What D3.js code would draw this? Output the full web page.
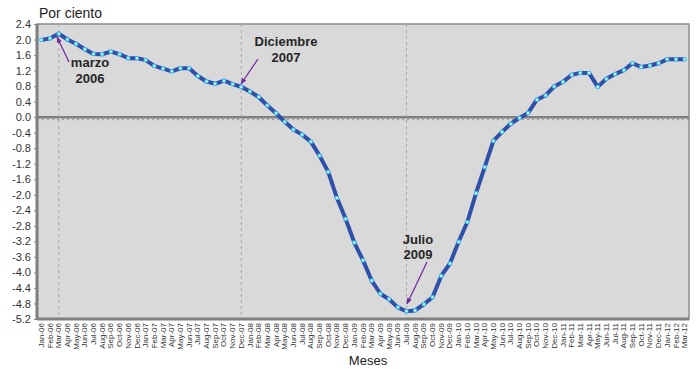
<!DOCTYPE html>
<html><head><meta charset="utf-8">
<script src="https://cdn.jsdelivr.net/npm/d3@7"></script>
<style>body{margin:0;background:#fff;} svg{display:block;font-family:"Liberation Sans",Arial,sans-serif;}</style>
</head><body>
<svg id="c" width="696" height="369"></svg>
<script>
const months = ["Jan-06","Feb-06","Mar-06","Apr-06","May-06","Jun-06","Jul-06","Aug-06","Sep-06","Oct-06","Nov-06","Dec-06",
"Jan-07","Feb-07","Mar-07","Apr-07","May-07","Jun-07","Jul-07","Aug-07","Sep-07","Oct-07","Nov-07","Dec-07",
"Jan-08","Feb-08","Mar-08","Apr-08","May-08","Jun-08","Jul-08","Aug-08","Sep-08","Oct-08","Nov-08","Dec-08",
"Jan-09","Feb-09","Mar-09","Apr-09","May-09","Jun-09","Jul-09","Aug-09","Sep-09","Oct-09","Nov-09","Dec-09",
"Jan-10","Feb-10","Mar-10","Apr-10","May-10","Jun-10","Jul-10","Aug-10","Sep-10","Oct-10","Nov-10","Dec-10",
"Jan-11","Feb-11","Mar-11","Apr-11","May-11","Jun-11","Jul-11","Aug-11","Sep-11","Oct-11","Nov-11","Dec-11",
"Jan-12","Feb-12","Mar-12"];
const values = [1.99,2.03,2.15,2.0,1.89,1.75,1.63,1.62,1.69,1.62,1.52,1.52,
1.47,1.32,1.25,1.18,1.26,1.26,1.06,0.92,0.86,0.94,0.85,0.78,
0.66,0.52,0.30,0.10,-0.12,-0.32,-0.45,-0.63,-0.99,-1.41,-2.08,-2.62,
-3.23,-3.69,-4.21,-4.55,-4.69,-4.90,-5.0,-4.98,-4.82,-4.64,-4.09,-3.77,
-3.21,-2.70,-1.96,-1.29,-0.61,-0.38,-0.17,-0.02,0.11,0.45,0.56,0.79,
0.91,1.09,1.14,1.14,0.78,0.99,1.11,1.21,1.39,1.29,1.33,1.39,
1.49,1.49,1.49];
const yTicks = [-5.2,-4.8,-4.4,-4.0,-3.6,-3.2,-2.8,-2.4,-2.0,-1.6,-1.2,-0.8,-0.4,0.0,0.4,0.8,1.2,1.6,2.0,2.4];
const markers = ["Mar-06","Dec-07","Jul-09"];
const annotations = [
  {month:"Mar-06", lines:["marzo","2006"]},
  {month:"Dec-07", lines:["Diciembre","2007"]},
  {month:"Jul-09", lines:["Julio","2009"]}
];

const svg = d3.select("#c");
const L=37,R=689,T=24,B=319;
const x = d3.scaleBand().domain(months).range([L,R]);
const cx = m => x(m)+x.bandwidth()/2;
const y = d3.scaleLinear().domain([-5.2,2.4]).range([B,T]);

// plot bg
svg.append("rect").attr("x",L).attr("y",T).attr("width",R-L).attr("height",B-T)
  .attr("fill","#d9d9d9").attr("stroke","#8c8c8c").attr("stroke-width",1.5);

// zero line
svg.append("line").attr("x1",L).attr("x2",R).attr("y1",y(0)+2.5).attr("y2",y(0)+2.5)
  .attr("stroke","#909090").attr("stroke-width",1).attr("stroke-dasharray","2,3");
svg.append("line").attr("x1",L).attr("x2",R).attr("y1",y(0)).attr("y2",y(0))
  .attr("stroke","#7f7f7f").attr("stroke-width",2.5);

// vertical dashed markers
svg.selectAll("line.vm").data(markers).enter().append("line").attr("class","vm")
  .attr("x1",d=>cx(d)).attr("x2",d=>cx(d)).attr("y1",T).attr("y2",B)
  .attr("stroke","#a6a6a6").attr("stroke-width",1).attr("stroke-dasharray","3,3");

// y axis
const ya = svg.append("g").attr("transform",`translate(${L},0)`)
  .call(d3.axisLeft(y).tickValues(yTicks).tickFormat(d3.format(".1f")).tickSize(3).tickPadding(3));
ya.select(".domain").remove();
ya.selectAll(".tick line").attr("stroke","#888");
ya.selectAll(".tick text").attr("font-size",11).attr("fill","#333").attr("font-family","Liberation Sans, Arial, sans-serif")
  .text(d=>d3.format(".1f")(d).replace("−","-"));
// thick left & bottom axis lines
svg.append("line").attr("x1",L).attr("x2",L).attr("y1",T).attr("y2",B+1).attr("stroke","#7f7f7f").attr("stroke-width",3);
svg.append("line").attr("x1",L).attr("x2",R).attr("y1",B).attr("y2",B).attr("stroke","#7f7f7f").attr("stroke-width",3);

// x axis
const xa = svg.append("g").attr("transform",`translate(0,${B})`)
  .call(d3.axisBottom(x).tickSize(0).tickPadding(0));
xa.select(".domain").remove();
xa.selectAll(".tick text").attr("font-size",8).attr("fill","#333")
  .attr("font-family","Liberation Sans, Arial, sans-serif")
  .attr("transform","rotate(-90)").attr("text-anchor","end")
  .attr("x",-4).attr("y",0).attr("dy","0.32em");

// line
const line = d3.line().x((d,i)=>cx(months[i])).y(d=>y(d));
svg.append("path").datum(values).attr("d",line).attr("fill","none")
  .attr("stroke","#2f4fa8").attr("stroke-width",4).attr("stroke-linejoin","round");
svg.selectAll("rect.pt").data(values).enter().append("rect").attr("class","pt")
  .attr("x",(d,i)=>cx(months[i])-1.5).attr("y",d=>y(d)-1.5).attr("width",3).attr("height",3)
  .attr("fill","#e8f8ff").attr("stroke","#33c3f0").attr("stroke-width",1);

// titles
svg.append("text").attr("x",39).attr("y",18).attr("font-size",14).attr("fill","#222").text("Por ciento");
svg.append("text").attr("x",368).attr("y",365).attr("font-size",13).attr("fill","#222").attr("text-anchor","middle").text("Meses");

// annotations
const annPos = [
  {tx:90, ty:[67,83], from:[69,62], to:[57,37]},
  {tx:286, ty:[46,62], from:[258,59], to:[241,84]},
  {tx:418, ty:[244,259], from:[427,262], to:[407,304]}
];
svg.append("defs").append("marker").attr("id","ah").attr("viewBox","0 0 10 10").attr("refX",9).attr("refY",5)
  .attr("markerWidth",5).attr("markerHeight",5).attr("orient","auto")
  .append("path").attr("d","M0,1 L10,5 L0,9 z").attr("fill","#7030a0");
annotations.forEach((a,i)=>{
  const p = annPos[i];
  a.lines.forEach((t,j)=>{
    svg.append("text").attr("x",p.tx).attr("y",p.ty[j]).attr("text-anchor","middle")
      .attr("font-size",13).attr("font-weight","bold").attr("fill","#262626").text(t);
  });
  svg.append("line").attr("x1",p.from[0]).attr("y1",p.from[1]).attr("x2",p.to[0]).attr("y2",p.to[1])
    .attr("stroke","#7030a0").attr("stroke-width",1.3).attr("marker-end","url(#ah)");
});
</script>
</body></html>
